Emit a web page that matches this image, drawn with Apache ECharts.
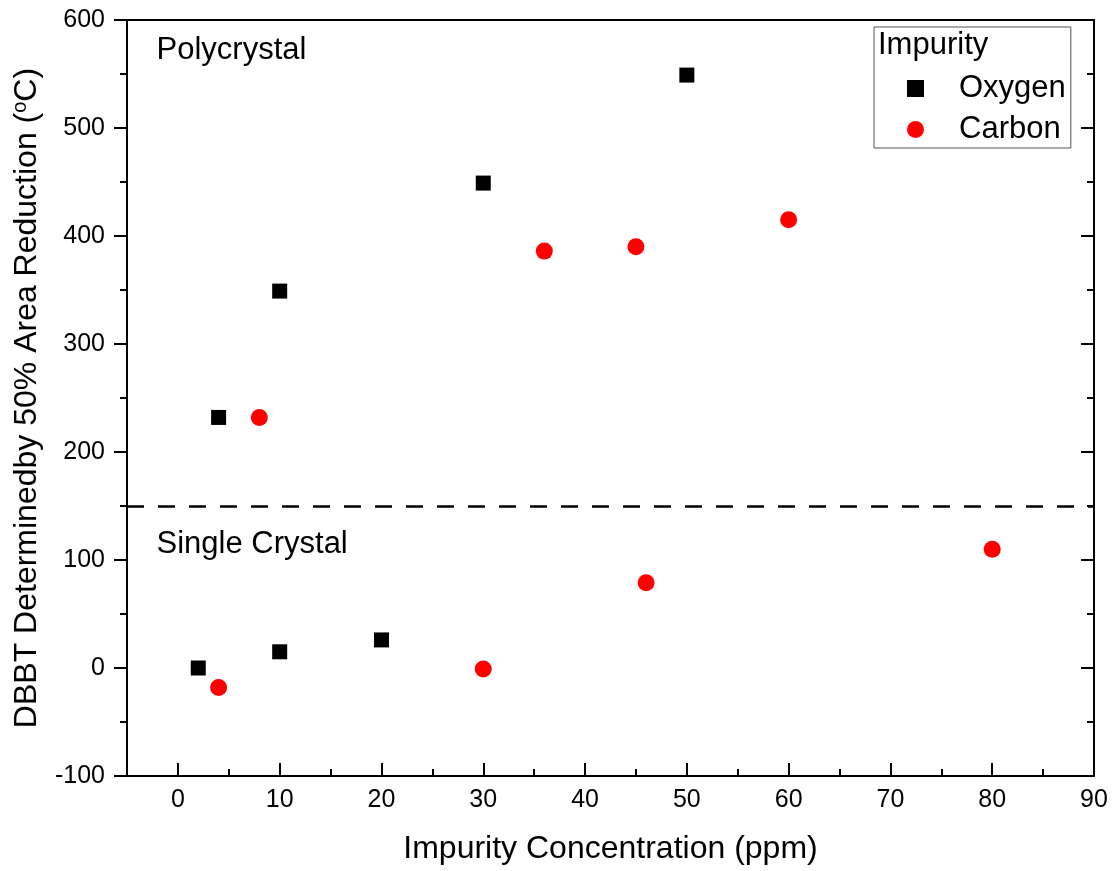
<!DOCTYPE html>
<html>
<head>
<meta charset="utf-8">
<script src="https://cdn.jsdelivr.net/npm/echarts@6/dist/echarts.min.js"></script>
<style>html,body{margin:0;padding:0;background:#fff}#c{width:1117px;height:871px}</style>
</head>
<body>
<div id="c"></div>
<script>
// ---- data ----
const oxygenX = [4, 10, 30, 50, 2, 10, 20];
const oxygenY = [232, 349, 449, 549, 0, 15, 26];
const carbonX = [8, 36, 45, 60, 4, 30, 46, 80];
const carbonY = [232, 386, 390, 415, -18, -1, 79, 110];
const xTickValues = [0, 10, 20, 30, 40, 50, 60, 70, 80, 90];
const xMinorTickValues = [5, 15, 25, 35, 45, 55, 65, 75, 85];
const boundaryY = 150;
const annotations = [
  { text: 'Polycrystal', x: -2.1, y: 572 },
  { text: 'Single Crystal', x: -2.1, y: 114 }
];
const xName = 'Impurity Concentration (ppm)';
const yName = 'DBBT Determinedby 50% Area Reduction ({sup|o}C)';
const legendTitle = 'Impurity';

const FONT = "'Liberation Sans', Arial, sans-serif";
const zip = (xs, ys) => xs.map((x, i) => [x, ys[i]]);

const chart = echarts.init(document.getElementById('c'), null, { renderer: 'canvas' });
const axisLine = { show: true, onZero: false, lineStyle: { color: '#000', width: 2 } };

chart.setOption({
  backgroundColor: '#fff',
  animation: false,
  textStyle: { fontFamily: FONT, color: '#000' },
  grid: { left: 127, top: 20, right: 23, bottom: 95, containLabel: false },
  xAxis: [
    {
      type: 'value', min: -5, max: 90, position: 'bottom',
      axisLine: axisLine,
      axisTick: { show: true, inside: true, length: 13, customValues: xTickValues, lineStyle: { color: '#000', width: 2 } },
      axisLabel: { show: true, customValues: xTickValues, margin: 12, fontSize: 25, color: '#000', fontFamily: FONT },
      splitLine: { show: false },
      name: xName, nameLocation: 'middle', nameGap: 57,
      nameTextStyle: { fontSize: 32, color: '#000', fontFamily: FONT }
    },
    {
      type: 'value', min: -5, max: 90, position: 'bottom',
      axisLine: { show: false, onZero: false },
      axisTick: { show: true, inside: true, length: 7, customValues: xMinorTickValues, lineStyle: { color: '#000', width: 2 } },
      axisLabel: { show: false },
      splitLine: { show: false }
    },
    {
      type: 'value', min: -5, max: 90, position: 'top',
      axisLine: axisLine, axisTick: { show: false }, axisLabel: { show: false }, splitLine: { show: false }
    }
  ],
  yAxis: [
    {
      type: 'value', min: -100, max: 600, interval: 100, position: 'left',
      axisLine: axisLine,
      axisTick: { show: true, inside: false, length: 13, lineStyle: { color: '#000', width: 2 } },
      minorTick: { show: true, splitNumber: 2, length: 7, lineStyle: { color: '#000', width: 2 } },
      axisLabel: { margin: 22, fontSize: 25, color: '#000', fontFamily: FONT },
      splitLine: { show: false },
      name: yName, nameLocation: 'middle', nameGap: 83,
      nameTextStyle: {
        fontSize: 32, color: '#000', fontFamily: FONT,
        rich: { sup: { fontSize: 20, color: '#000', fontFamily: FONT, padding: [0, 0, 14, 0] } }
      }
    },
    {
      type: 'value', min: -100, max: 600, interval: 100, position: 'right',
      axisLine: axisLine,
      axisTick: { show: true, inside: true, length: 13, lineStyle: { color: '#000', width: 2 } },
      minorTick: { show: true, splitNumber: 2, length: 7, lineStyle: { color: '#000', width: 2 } },
      axisLabel: { show: false },
      splitLine: { show: false }
    }
  ],
  legend: {
    orient: 'vertical',
    left: 874, top: 27,
    padding: [46, 5, 3, 33],
    itemGap: 10,
    itemWidth: 17, itemHeight: 17,
    borderColor: '#555', borderWidth: 1,
    backgroundColor: '#fff',
    data: [
      { name: 'Oxygen', icon: 'rect' },
      { name: 'Carbon', icon: 'circle' }
    ],
    textStyle: { fontSize: 31, color: '#000', fontFamily: FONT, lineHeight: 28, padding: [0, 0, 0, 30] }
  },
  graphic: [
    {
      type: 'text', left: 878, top: 30, z: 100,
      style: { text: legendTitle, fontSize: 31, fontFamily: FONT, fill: '#000' }
    }
  ],
  series: [
    {
      name: 'Oxygen', type: 'scatter', symbol: 'rect', symbolSize: 15,
      itemStyle: { color: '#000', opacity: 1 },
      data: zip(oxygenX, oxygenY), z: 5
    },
    {
      name: 'Carbon', type: 'scatter', symbol: 'circle', symbolSize: 17,
      itemStyle: { color: '#ff0000', opacity: 1 },
      data: zip(carbonX, carbonY), z: 5
    },
    {
      name: 'annotations', type: 'scatter', symbolSize: 0, silent: true,
      itemStyle: { opacity: 1 },
      data: annotations.map(a => ({ value: [a.x, a.y], label: { formatter: a.text } })),
      label: { show: true, position: 'right', distance: 0, fontSize: 31, color: '#000', opacity: 1, fontFamily: FONT },
      markLine: {
        silent: true, symbol: 'none',
        label: { show: false },
        lineStyle: { color: '#000', width: 2.5, type: [17, 14], opacity: 1 },
        data: [{ yAxis: boundaryY }]
      }
    }
  ]
});
</script>
</body>
</html>
